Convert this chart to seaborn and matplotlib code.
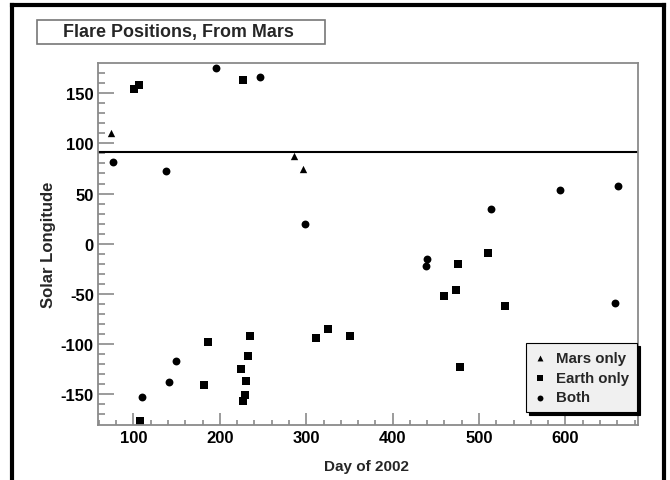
import matplotlib.pyplot as plt
import matplotlib.lines as mlines
import matplotlib.patches as mpatches
import pandas as pd
import seaborn as sns

# Flare positions
mars_day = [74, 285.5, 296.7]
mars_lon = [110, 87, 74.5]

earth_day = [100.6, 106, 226.6, 108, 182, 186.5, 224, 234.7, 232.7, 230.8, 229,
             227.4, 311, 325, 351, 475.5, 510, 472.8, 459, 530, 477.5]
earth_lon = [154.5, 158, 163.5, -177, -140.5, -97.4, -125, -91.4, -112, -137,
             -151, -157, -94, -85, -91.4, -20, -9.7, -46, -52, -61.5, -123]

both_day = [76.6, 138, 195, 246, 299, 110, 140.7, 149, 439.7, 438.5, 513.6,
            593.4, 660.5, 657]
both_lon = [81.5, 72.5, 175, 166, 20, -153, -138, -117, -15.6, -22.2, 35, 54,
            58, -59]

mars_longitude = 91
x_ticks = [100, 200, 300, 400, 500, 600]
y_ticks = [-150, -100, -50, 0, 50, 100, 150]

sns.set_style('white')
plt.rcParams['font.family'] = ['Liberation Sans', 'DejaVu Sans']
plt.rcParams['font.weight'] = 'bold'
plt.rcParams['axes.unicode_minus'] = False

W, H = 670, 481
fig = plt.figure(figsize=(W / 100, H / 100), dpi=100)
ax = fig.add_axes([98 / W, 1 - 425.5 / H, 540 / W, 361.5 / H])

df_mars = pd.DataFrame({'day': mars_day, 'lon': mars_lon})
df_earth = pd.DataFrame({'day': earth_day, 'lon': earth_lon})
df_both = pd.DataFrame({'day': both_day, 'lon': both_lon})

sns.scatterplot(df_mars, x='day', y='lon', marker='^', color='black', s=28,
                linewidth=0, label='Mars only', ax=ax)
sns.scatterplot(df_earth, x='day', y='lon', marker='s', color='black', s=36,
                linewidth=0, label='Earth only', ax=ax)
sns.scatterplot(df_both, x='day', y='lon', marker='o', color='black', s=32,
                linewidth=0, label='Both', ax=ax)

ax.axhline(mars_longitude, color='black', lw=1.5)

ax.set_xlim(59, 684)
ax.set_ylim(-180, 180)
ax.set_xticks(x_ticks)
ax.set_yticks(y_ticks)
ax.set_xticks(range(60, 685, 20), minor=True)
ax.set_yticks(range(-170, 180, 10), minor=True)

grey = '#8a8a8a'
for sp in ax.spines.values():
    sp.set_color(grey)
    sp.set_linewidth(1.3)
ax.tick_params(axis='both', which='both', direction='in', colors=grey,
               labelcolor='black', labelsize=12, width=1.2)
ax.tick_params(axis='y', which='major', length=11.5, pad=3)
ax.tick_params(axis='y', which='minor', length=5.3)
ax.tick_params(axis='x', which='major', length=8.5, pad=4)
ax.tick_params(axis='x', which='minor', length=3.6)
ax.tick_params(top=False, right=False, left=True, bottom=True, which='both')
for lab in ax.get_xticklabels() + ax.get_yticklabels():
    lab.set_fontweight('bold')

ax.set_xlabel('Day of 2002', fontsize=11, fontweight='bold')
ax.set_ylabel('Solar Longitude', fontsize=12, fontweight='bold')
ax.xaxis.set_label_coords((367 - 98) / 540, -(460 - 425.5) / 361.5)
ax.yaxis.set_label_coords(-(98 - 56) / 540, 0.5)

leg = ax.legend(loc='upper right', bbox_to_anchor=(637 / W, 1 - 344 / H),
                bbox_transform=fig.transFigure, borderaxespad=0,
                fancybox=False, framealpha=1,
                handlelength=0.8, handletextpad=0.7, labelspacing=0.4,
                borderpad=0.5, prop={'weight': 'bold', 'size': 10.8},
                shadow={'color': 'black', 'alpha': 1, 'shade': 1})
leg.get_frame().set_facecolor('#f0f0f0')
leg.get_frame().set_edgecolor('black')
leg.get_frame().set_linewidth(0.8)
for h in leg.legend_handles:
    h.set_sizes([18])

# title box
fig.add_artist(mpatches.Rectangle((37 / W, 1 - 45 / H), (325 - 37) / W,
                                  24 / H, transform=fig.transFigure,
                                  facecolor='white', edgecolor='#777777',
                                  lw=1.2))
fig.text(178 / W, 1 - 33 / H, 'Flare Positions, From Mars', ha='center',
         va='center', fontsize=12.9, fontweight='bold')

# outer canvas frame
kw = dict(color='black', lw=3, transform=fig.transFigure, solid_capstyle='projecting')
fig.add_artist(mlines.Line2D([12.5 / W, 12.5 / W], [0, 1 - 5.5 / H], **kw))
fig.add_artist(mlines.Line2D([12.5 / W, 664 / W], [1 - 5.5 / H, 1 - 5.5 / H], **kw))
fig.add_artist(mlines.Line2D([664 / W, 664 / W], [0, 1 - 5.5 / H], **kw))

fig.savefig('out.png', dpi=100)
